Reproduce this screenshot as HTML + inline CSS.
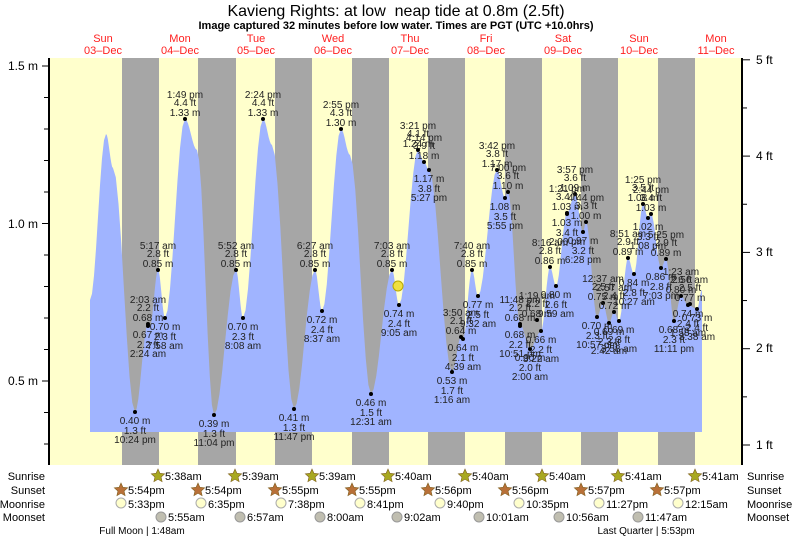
<!DOCTYPE html>
<html><head><meta charset="utf-8"><style>
html,body{margin:0;padding:0;background:#fff;}
svg{display:block;font-family:"Liberation Sans",Arial,sans-serif;}
</style></head><body>
<svg id="s" width="793" height="539" viewBox="0 0 793 539" xmlns="http://www.w3.org/2000/svg">
<rect x="0" y="0" width="793" height="539" fill="#fff"/>
<rect x="49" y="58" width="693" height="407" fill="#ffffcc"/>
<g fill="#a6a6a6">
<rect x="122" y="58" width="37" height="407"/>
<rect x="198" y="58" width="38" height="407"/>
<rect x="275" y="58" width="37" height="407"/>
<rect x="352" y="58" width="37" height="407"/>
<rect x="428" y="58" width="37" height="407"/>
<rect x="505" y="58" width="37" height="407"/>
<rect x="581" y="58" width="37" height="407"/>
<rect x="658" y="58" width="37" height="407"/>
</g>
<path id="tide" fill="#a0b4ff" d=""/>
<g id="dots" fill="#000"></g>
<g id="lbl" font-size="10" fill="#222" text-anchor="middle"></g>
<circle cx="398" cy="286" r="5" fill="#f0e040" stroke="#b8a800" stroke-width="1"/>
<text x="396" y="16" font-size="16" text-anchor="middle" fill="#000" xml:space="preserve">Kavieng Rights: at low  neap tide at 0.8m (2.5ft)</text>
<text x="396" y="29" font-size="11" font-weight="bold" text-anchor="middle" fill="#000">Image captured 32 minutes before low water. Times are PGT (UTC +10.0hrs)</text>
<g font-size="11" fill="#ff2020" text-anchor="middle">
<text x="103" y="42">Sun</text><text x="103" y="54">03–Dec</text>
<text x="180" y="42">Mon</text><text x="180" y="54">04–Dec</text>
<text x="256" y="42">Tue</text><text x="256" y="54">05–Dec</text>
<text x="333" y="42">Wed</text><text x="333" y="54">06–Dec</text>
<text x="410" y="42">Thu</text><text x="410" y="54">07–Dec</text>
<text x="486" y="42">Fri</text><text x="486" y="54">08–Dec</text>
<text x="563" y="42">Sat</text><text x="563" y="54">09–Dec</text>
<text x="639" y="42">Sun</text><text x="639" y="54">10–Dec</text>
<text x="716" y="42">Mon</text><text x="716" y="54">11–Dec</text>
</g>
<line x1="49" y1="58" x2="49" y2="465" stroke="#000" stroke-width="2"/>
<line x1="742" y1="58" x2="742" y2="465" stroke="#000" stroke-width="2"/>
<g id="ax" stroke="#000" stroke-width="1"></g>
<g font-size="12" fill="#000">
<text x="38" y="70" text-anchor="end">1.5 m</text>
<text x="38" y="228" text-anchor="end">1.0 m</text>
<text x="38" y="385" text-anchor="end">0.5 m</text>
<text x="756" y="64">5 ft</text>
<text x="756" y="160">4 ft</text>
<text x="756" y="256">3 ft</text>
<text x="756" y="352">2 ft</text>
<text x="756" y="449">1 ft</text>
</g>
<g font-size="11" fill="#000">
<text x="45" y="480" text-anchor="end">Sunrise</text>
<text x="45" y="494" text-anchor="end">Sunset</text>
<text x="45" y="508" text-anchor="end">Moonrise</text>
<text x="45" y="521" text-anchor="end">Moonset</text>
<text x="747" y="480">Sunrise</text>
<text x="747" y="494">Sunset</text>
<text x="747" y="508">Moonrise</text>
<text x="747" y="521">Moonset</text>
</g>
<g id="astro" font-size="11" fill="#000"></g>
<g font-size="10" fill="#000" text-anchor="middle">
<text x="142" y="534">Full Moon | 1:48am</text>
<text x="646" y="534">Last Quarter | 5:53pm</text>
</g>
</svg>
<script>
var NS="http://www.w3.org/2000/svg";
function el(p,t,a,txt){var e=document.createElementNS(NS,t);for(var k in a)e.setAttribute(k,a[k]);if(txt!==undefined)e.textContent=txt;document.getElementById(p).appendChild(e);return e;}
var pts=[[90,300],[106,134],[113,168],[135,412],[148,324],[150,326],[158,270],[165,318],[185,119],[197,150],[214,415],[236,270],[243,318],[263,119],[272,145],[294,409],[315,270],[322,311],[341,129],[350,155],[371,394],[392,270],[399,305],[418,150],[424,162],[429,170],[452,372],[461,337],[463,339],[472,270],[478,296],[497,170],[505,198],[508,192],[520,324],[530,349],[541,331],[550,267],[556,286],[567,213],[575,194],[583,232],[586,222],[597,317],[603,303],[609,323],[614,312],[619,321],[628,258],[634,274],[643,204],[648,218],[651,214],[661,268],[666,259],[674,321],[681,296],[688,305],[697,309],[702,290]];
var d="M90,432 L90,300";
for(var i=0;i<pts.length-1;i++){var a=pts[i],b=pts[i+1];for(var s=1;s<=8;s++){var f=s/8,c=(1-Math.cos(Math.PI*f))/2;d+=" L"+(a[0]+(b[0]-a[0])*f).toFixed(1)+","+(a[1]+(b[1]-a[1])*c).toFixed(1);}}
d+=" L702,432 Z";document.getElementById("tide").setAttribute("d",d);
var L=[[185,119,["1:49 pm","4.4 ft","1.33 m"],1],[263,119,["2:24 pm","4.4 ft","1.33 m"],1],[341,129,["2:55 pm","4.3 ft","1.30 m"],1],
[135,412,["0.40 m","1.3 ft","10:24 pm"],0],[214,415,["0.39 m","1.3 ft","11:04 pm"],0],[294,409,["0.41 m","1.3 ft","11:47 pm"],0],[371,394,["0.46 m","1.5 ft","12:31 am"],0],
[158,270,["5:17 am","2.8 ft","0.85 m"],1],[236,270,["5:52 am","2.8 ft","0.85 m"],1],[315,270,["6:27 am","2.8 ft","0.85 m"],1],[392,270,["7:03 am","2.8 ft","0.85 m"],1],[472,270,["7:40 am","2.8 ft","0.85 m"],1],
[165,318,["0.70 m","2.3 ft","7:58 am"],0],[243,318,["0.70 m","2.3 ft","8:08 am"],0],[322,311,["0.72 m","2.4 ft","8:37 am"],0],[399,305,["0.74 m","2.4 ft","9:05 am"],0],[478,296,["0.77 m","2.5 ft","9:32 am"],0],
[148,324,["2:03 am","2.2 ft","0.68 m"],1],[148,326,["0.67 m","2.2 ft","2:24 am"],0],
[418,150,["3:21 pm","4.1 ft","1.24 m"],1],[424,162,["4:14 pm","3.9 ft","1.18 m"],1],[429,170,["1.17 m","3.8 ft","5:27 pm"],0],
[452,372,["0.53 m","1.7 ft","1:16 am"],0],[461,337,["3:50 am","2.1 ft","0.64 m"],1],[463,339,["0.64 m","2.1 ft","4:39 am"],0],
[497,170,["3:42 pm","3.8 ft","1.17 m"],1],[508,192,["7:00 pm","3.6 ft","1.10 m"],1],[505,198,["1.08 m","3.5 ft","5:55 pm"],0],
[520,324,["11:48 pm","2.2 ft","0.68 m"],1],[520,326,["0.68 m","2.2 ft","10:51 pm"],0],[530,349,["0.60 m","2.0 ft","2:00 am"],0],[541,331,["0.66 m","2.2 ft","3:22 am"],0],[537,320,["1:19 am","2.2 ft","0.68 m"],1],
[550,267,["8:16 am","2.8 ft","0.86 m"],1],[556,286,["0.80 m","2.6 ft","9:59 am"],0],[567,213,["1:21 pm","3.4 ft","1.03 m"],1],[575,194,["3:57 pm","3.6 ft","1.09 m"],1],[586,222,["4:44 pm","3.3 ft","1.00 m"],1],
[567,214,["1.03 m","3.4 ft","2:00 pm"],0],[583,232,["0.97 m","3.2 ft","6:28 pm"],0],[597,317,["0.70 m","2.3 ft","10:57 pm"],0],[603,303,["12:37 am","2.5 ft","0.75 m"],1],[609,323,["0.69 m","2.3 ft","2:42 am"],0],[614,312,["2:57 am","2.4 ft","0.72 m"],1],[619,321,["0.69 m","2.3 ft","3:58 am"],0],
[628,258,["8:51 am","2.9 ft","0.89 m"],1],[634,274,["0.84 m","2.8 ft","10:27 am"],0],[643,204,["1:25 pm","3.5 ft","1.08 m"],1],[651,214,["2:44 pm","3.4 ft","1.03 m"],1],[648,218,["1.02 m","3.3 ft","1:08 pm"],0],
[666,259,["5:25 pm","2.9 ft","0.89 m"],1],[661,268,["0.86 m","2.8 ft","7:03 pm"],0],[674,321,["0.68 m","2.3 ft","11:11 pm"],0],[681,296,["1:23 am","2.6 ft","0.80 m"],1],[690,304,["2:56 am","2.5 ft","0.77 m"],1],[688,305,["0.74 m","2.4 ft","1:58 am"],0],[697,309,["0.73 m","2.4 ft","3:38 am"],0]];
L.forEach(function(l){el("dots","circle",{cx:l[0],cy:l[1],r:2});
var ys=l[3]?[l[1]-21,l[1]-13,l[1]-3]:[l[1]+12,l[1]+22,l[1]+31];
for(var j=0;j<3;j++)el("lbl","text",{x:l[0],y:ys[j]},l[2][j]);});
for(var m=0.3;m<=1.55;m+=0.1){var y=66+(1.5-m)*315;if(y>465)continue;var big=Math.abs(m*2-Math.round(m*2))<0.01;el("ax","line",{x1:big?42:44,y1:y,x2:49,y2:y});}
for(var f=0.5;f<=5.01;f+=0.5){var y=445-(f-1)*96.3;if(y<58||y>465)continue;el("ax","line",{x1:742,y1:y,x2:(Math.abs(f%1)<0.01)?750:747,y2:y});}
function star(x,y,c){var p="";for(var k=0;k<10;k++){var r=k%2?3.3:7,a=-Math.PI/2+k*Math.PI/5;p+=(x+r*Math.cos(a)).toFixed(1)+","+(y+r*Math.sin(a)).toFixed(1)+" ";}el("astro","polygon",{points:p,fill:c,stroke:"#806020","stroke-width":0.6});}
[[158,"5:38am"],[235,"5:39am"],[312,"5:39am"],[388,"5:40am"],[465,"5:40am"],[542,"5:40am"],[618,"5:41am"],[695,"5:41am"]].forEach(function(a){star(a[0],476,"#a8a820");el("astro","text",{x:a[0]+7,y:480},a[1]);});
[[121,"5:54pm"],[198,"5:54pm"],[275,"5:55pm"],[352,"5:55pm"],[428,"5:56pm"],[505,"5:56pm"],[581,"5:57pm"],[657,"5:57pm"]].forEach(function(a){star(a[0],490,"#b87038");el("astro","text",{x:a[0]+7,y:494},a[1]);});
[[121,"5:33pm"],[201,"6:35pm"],[281,"7:38pm"],[360,"8:41pm"],[440,"9:40pm"],[519,"10:35pm"],[599,"11:27pm"],[678,"12:15am"]].forEach(function(a){el("astro","circle",{cx:a[0],cy:503,r:5,fill:"#ffffcc",stroke:"#aaa"});el("astro","text",{x:a[0]+7,y:508},a[1]);});
[[161,"5:55am"],[240,"6:57am"],[320,"8:00am"],[397,"9:02am"],[479,"10:01am"],[559,"10:56am"],[638,"11:47am"]].forEach(function(a){el("astro","circle",{cx:a[0],cy:517,r:5,fill:"#c0beb0",stroke:"#999"});el("astro","text",{x:a[0]+7,y:521},a[1]);});
</script>
</body></html>
